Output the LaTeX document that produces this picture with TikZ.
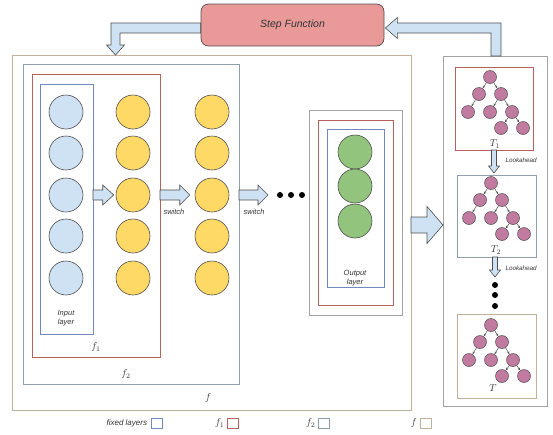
\documentclass[tikz,border=0pt]{standalone}
\usepackage{fontspec}
\setmainfont{Liberation Sans}
\usetikzlibrary{calc,arrows.meta}
\definecolor{fcol}{HTML}{C2B19A}
\definecolor{ftwocol}{HTML}{8FA0AC}
\definecolor{fonecol}{HTML}{B5625C}
\definecolor{fixcol}{HTML}{7189BF}
\definecolor{pancol}{HTML}{A3A3A3}
\definecolor{bluefill}{HTML}{CFE2F3}
\definecolor{yelfill}{HTML}{FFD966}
\definecolor{grnfill}{HTML}{93C47D}
\definecolor{treefill}{HTML}{C27BA0}
\definecolor{stepfill}{HTML}{EA9999}
\definecolor{edgecol}{HTML}{4D4D4D}
\definecolor{txtcol}{HTML}{333333}
\newcommand\hblk[5]{\draw[blk] let \p1=#1, \p2=#2 in (\x1,\y1+#3) -- (\x2-#5,\y1+#3) -- (\x2-#5,\y1+#4) -- (\x2,\y1) -- (\x2-#5,\y1-#4) -- (\x2-#5,\y1-#3) -- (\x1,\y1-#3) -- cycle;}
\newcommand\vblk[5]{\draw[blk] let \p1=#1, \p2=#2 in (\x1-#3,\y1) -- (\x1-#3,\y2+#5) -- (\x1-#4,\y2+#5) -- (\x1,\y2) -- (\x1+#4,\y2+#5) -- (\x1+#3,\y2+#5) -- (\x1+#3,\y1) -- cycle;}
\newcommand\frm[6]{\node[frame, draw=#2, minimum width={#5pt-#3pt}, minimum height={#6pt-#4pt}] (#1) at (#3,#4) {};}
\newcommand\mytree[2]{%
  \node[tn] (#1r) at #2 {};
  \node[tn] (#1a) at ($#2+(-11,17)$) {};
  \node[tn] (#1b) at ($#2+(11,17)$) {};
  \node[tn] (#1c) at ($#2+(-22,35)$) {};
  \node[tn] (#1d) at ($#2+(0,35)$) {};
  \node[tn] (#1e) at ($#2+(22,35)$) {};
  \node[tn] (#1f) at ($#2+(11,51)$) {};
  \node[tn] (#1g) at ($#2+(33,51)$) {};
  \draw[tedge] (#1r) -- (#1a);
  \draw[tedge] (#1r) -- (#1b);
  \draw[tedge] (#1a) -- (#1c);
  \draw[tedge] (#1b) -- (#1d);
  \draw[tedge] (#1b) -- (#1e);
  \draw[tedge] (#1e) -- (#1f);
  \draw[tedge] (#1e) -- (#1g);
}
\begin{document}
\begin{tikzpicture}[x=1pt,y=-1pt,
  frame/.style={line width=0.8pt, inner sep=0pt, outer sep=0pt, anchor=north west},
  circ/.style={circle, draw=edgecol, line width=0.6pt, minimum size=34pt, inner sep=0pt},
  tn/.style={circle, draw=edgecol, line width=0.5pt, fill=treefill, minimum size=13pt, inner sep=0pt},
  tedge/.style={draw=edgecol, line width=0.5pt, -{Stealth[length=2.5pt,width=2.5pt]}, shorten >=0.3pt},
  blk/.style={draw=edgecol, line width=0.6pt, fill=bluefill, line join=miter},
  dotn/.style={circle, fill=black, minimum size=6pt, inner sep=0pt},
  lbl/.style={text=txtcol, font=\itshape\fontsize{7.5}{9}\selectfont, align=center},
  mlbl/.style={text=txtcol, font=\fontsize{10}{12}\selectfont},
  legbox/.style={draw=#1, line width=0.8pt, minimum width=11pt, minimum height=10pt, inner sep=0pt},
  stepbox/.style={draw=edgecol, line width=0.7pt, fill=stepfill, rounded corners=7.5pt, minimum width=183pt, minimum height=42pt, font=\itshape\fontsize{10.5}{12}\selectfont, text=txtcol}
]
\useasboundingbox (0,0) rectangle (553,434);
% containers
\frm{outer}{fcol}{12}{55}{411}{410}
\frm{ftwo}{ftwocol}{23}{64}{239}{384}
\frm{fone}{fonecol}{32}{74}{160}{357}
\frm{inbox}{fixcol}{40}{84}{93}{334}
\frm{oouter}{pancol}{309}{110}{402}{315}
\frm{ored}{fonecol}{318}{120}{393}{305}
\frm{oblue}{fixcol}{327}{129}{384}{287}
\frm{rpanel}{pancol}{443}{56}{547}{406}
\frm{tonebox}{fonecol}{455}{67}{533}{150}
\frm{ttwobox}{ftwocol}{457}{175}{536}{257}
\frm{tbox}{fcol}{457}{314}{536}{398}
% step function and bent arrows
\node[stepbox, draw=none, fill=none] (stepdummy) at (292.5,25) {};
\coordinate (ls) at ([yshift=-3pt]stepdummy.west);
\coordinate (lt) at ([xshift=103.5pt]outer.north west);
\draw[blk] let \p1=(ls), \p2=(lt) in (\x1,\y1+5pt) -- (\x2-4.5pt,\y1+5pt) -- (\x2-4.5pt,\y2+10pt) -- (\x2-9pt,\y2+10pt) -- (\x2,\y2) -- (\x2+9pt,\y2+10pt) -- (\x2+4.5pt,\y2+10pt) -- (\x2+4.5pt,\y1-5pt) -- (\x1,\y1-5pt) -- cycle;
\coordinate (rs) at ([xshift=1pt]rpanel.north);
\coordinate (rt) at ([xshift=1pt,yshift=-3pt]stepdummy.east);
\draw[blk] let \p1=(rs), \p2=(rt) in (\x1-5pt,\y1) -- (\x1-5pt,\y2-5pt) -- (\x2+12pt,\y2-5pt) -- (\x2+12pt,\y2-10.5pt) -- (\x2,\y2) -- (\x2+12pt,\y2+10.5pt) -- (\x2+12pt,\y2+5pt) -- (\x1+5pt,\y2+5pt) -- (\x1+5pt,\y1) -- cycle;
\node[stepbox] (step) at (292.5,25) {Step Function};
% input circles
\foreach \i/\y in {1/112,2/153,3/195,4/236,5/278}{
  \node[circ, fill=bluefill] (i\i) at (66,\y) {};
  \node[circ, fill=yelfill] (ya\i) at (133,\y) {};
  \node[circ, fill=yelfill] (yb\i) at (212,\y) {};
}
\foreach \i/\y in {1/152,2/186,3/221}{
  \node[circ, fill=grnfill] (g\i) at (355,\y) {};
}
% horizontal block arrows
\hblk{(inbox.east |- i3)}{([xshift=-2pt]ya3.west)}{5pt}{10pt}{11pt}
\hblk{(fone.east |- i3)}{([xshift=-5pt]yb3.west)}{5pt}{10pt}{10pt}
\hblk{(ftwo.east |- i3)}{([xshift=29pt]ftwo.east)}{5pt}{10pt}{10pt}
\node[lbl] (sw1) at (174,212) {switch};
\node[lbl] (sw2) at (254,212) {switch};
\node[dotn] (h1) at (280,195) {};
\node[dotn] (h2) at (291,195) {};
\node[dotn] (h3) at (302,195) {};
\node[lbl] (inl) at (66,318) {Input\\layer};
\node[lbl] (outl) at (355,278) {Output\\layer};
\node[mlbl] (lf1) at (96,347) {$f_1$};
\node[mlbl] (lf2) at (126,374) {$f_2$};
\node[mlbl] (lf) at (208,398) {$f$};
% big arrow
\hblk{([yshift=7.5pt]outer.east)}{(rpanel.west)}{8pt}{18.5pt}{16pt}
% trees
\mytree{ta}{(490,77)}
\mytree{tb}{(491,183)}
\mytree{tc}{(491,325)}
\node[mlbl] (lt1) at (495,144) {$T_1$};
\node[mlbl] (lt2) at (496,250) {$T_2$};
\node[mlbl] (ltt) at (493,388) {$T$};
\vblk{(tonebox.south)}{([yshift=2pt]ttwobox.north)}{2.5pt}{5.5pt}{7pt}
\vblk{([xshift=-1.5pt]ttwobox.south)}{([yshift=-20pt]ttwobox.south)}{2.5pt}{5.5pt}{7pt}
\node[lbl, font=\itshape\fontsize{6.3}{7}\selectfont, anchor=west] (la1) at (502,160) {Lookahead};
\node[lbl, font=\itshape\fontsize{6.3}{7}\selectfont, anchor=west] (la2) at (502,268) {Lookahead};
\node[dotn] (v1) at (495,285) {};
\node[dotn] (v2) at (495,295) {};
\node[dotn] (v3) at (495,306) {};
% legend
\node[legbox=fixcol] (lg1) at (156.5,423) {};
\node[lbl, font=\itshape\fontsize{8}{9}\selectfont, anchor=east] (lt1x) at (lg1.west) {fixed layers};
\node[legbox=fonecol] (lg2) at (232.5,423) {};
\node[mlbl, anchor=east, inner sep=2pt] (lt2x) at (lg2.west) {$f_1$};
\node[legbox=ftwocol] (lg3) at (323.5,423) {};
\node[mlbl, anchor=east, inner sep=2pt] (lt3x) at (lg3.west) {$f_2$};
\node[legbox=fcol] (lg4) at (426,423) {};
\node[mlbl, anchor=east, inner sep=3pt] (lt4x) at (lg4.west) {$f$};
\end{tikzpicture}
\end{document}
